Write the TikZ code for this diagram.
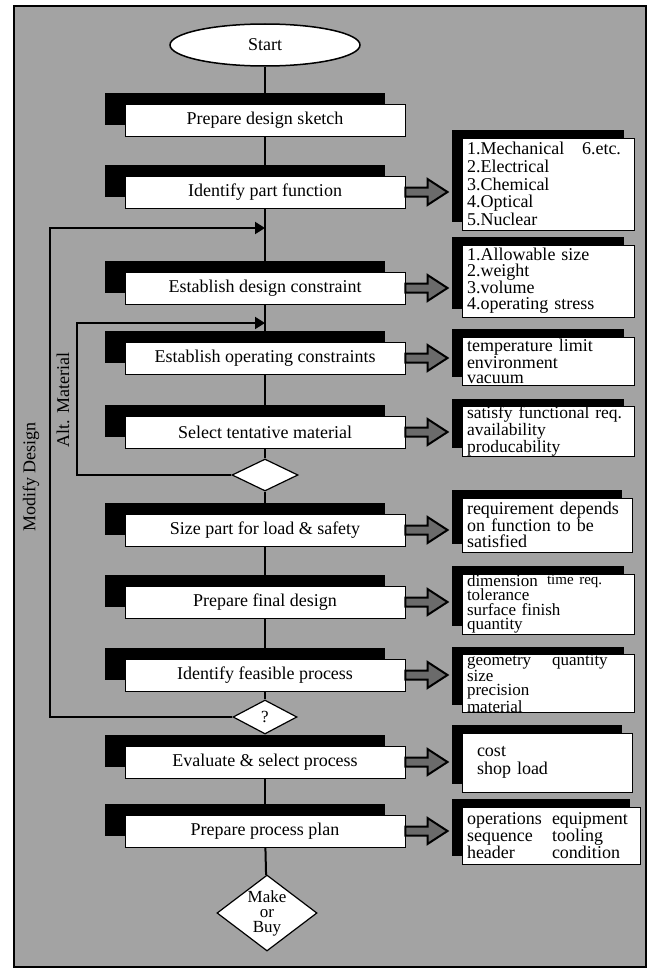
\documentclass[tikz,border=0pt]{standalone}
\usepackage{fontspec}
\setmainfont{Liberation Serif}
\usetikzlibrary{shapes.geometric,shadows,calc,arrows.meta}
\definecolor{halftone}{gray}{0.64}
\definecolor{arrowfill}{gray}{0.42}

% fat hollow arrow from a step box to its note box
\newcommand\blockarrow[2]{%
  \draw[barrow] let \p1=(#1.east), \p2=(#2.west) in
    (\x1,\y1+4.5pt) -- (\x2-34pt,\y1+4.5pt) -- (\x2-34pt,\y1+13pt) --
    (\x2-14pt,\y1) -- (\x2-34pt,\y1-13pt) -- (\x2-34pt,\y1-4.5pt) --
    (\x1,\y1-4.5pt) -- cycle;}

\begin{document}
\begin{tikzpicture}[x=1pt,y=-1pt,
  stepbox/.style={draw=black, line width=0.8pt, fill=white,
    minimum width=280pt, minimum height=32pt, inner sep=0pt,
    font=\fontsize{18}{18}\selectfont,
    general shadow={fill=black, shadow xshift=-20pt, shadow yshift=11pt}},
  notebox/.style={draw=black, line width=1pt, fill=white,
    inner xsep=5pt, inner ysep=0pt, align=left,
    general shadow={fill=black, shadow xshift=-10pt, shadow yshift=8pt}},
  decision/.style={diamond, draw=black, line width=1.2pt, fill=white,
    inner sep=0pt, font=\fontsize{17}{15}\selectfont, align=center},
  link/.style={draw=black, line width=2pt},
  loop/.style={draw=black, line width=2pt, -{Triangle[length=10pt,width=12pt]}},
  barrow/.style={draw=black, line width=2pt, fill=arrowfill, line join=miter},
  sidelabel/.style={rotate=90, font=\fontsize{18}{18}\selectfont, inner sep=0pt}
]
\useasboundingbox (0,0) rectangle (653,974);
\fill[white] (0,0) rectangle (653,974);
\draw[line width=2pt, fill=halftone] (14,6) rectangle (646,967);

% main flow
\node[ellipse, draw=black, line width=1.5pt, fill=white, minimum width=190pt,
      minimum height=42pt, inner sep=0pt, font=\fontsize{18}{18}\selectfont]
      (start) at (265,45) {Start};
\node[stepbox] (p1) at (265,120) {Prepare design sketch};
\node[stepbox] (p2) at (265,192) {Identify part function};
\node[stepbox] (p3) at (265,288) {Establish design constraint};
\node[stepbox] (p4) at (265,358) {Establish operating constraints};
\node[stepbox] (p5) at (265,432) {Select tentative material};
\node[decision, minimum width=66pt, minimum height=32pt] (d1) at (265,475) {};
\node[stepbox] (p6) at (265,530) {Size part for load \& safety};
\node[stepbox] (p7) at (265,602) {Prepare final design};
\node[stepbox] (p8) at (265,675) {Identify feasible process};
\node[decision, minimum width=64pt, minimum height=34pt] (d2) at (265,717) {?};
\node[stepbox] (p9) at (265,762) {Evaluate \& select process};
\node[stepbox] (p10) at (265,831) {Prepare process plan};
\node[decision, aspect=1.35, minimum width=100pt, minimum height=76pt]
      (d3) at (267,913) {Make\\or\\Buy};

% notes
\node[notebox, text width=162pt, minimum height=92pt, font=\fontsize{18}{17.75}\selectfont]
  (n2) at (548,184) {\makebox[115pt][l]{1.Mechanical}6.etc.\\2.Electrical\\3.Chemical\\4.Optical\\5.Nuclear};
\node[notebox, text width=162pt, minimum height=72pt, font=\fontsize{18}{16}\selectfont]
  (n3) at (548,281) {1.Allowable size\\2.weight\\3.volume\\4.operating stress};
\node[notebox, text width=162pt, minimum height=48pt, font=\fontsize{18}{15}\selectfont]
  (n4) at (548,361) {temperature limit\\environment\\vacuum};
\node[notebox, text width=162pt, minimum height=47pt, font=\fontsize{17.5}{14.5}\selectfont]
  (n5) at (548,431.5) {satisfy functional req.\\availability\\producability};
\node[notebox, text width=160pt, minimum height=54pt, font=\fontsize{18}{16}\selectfont]
  (n6) at (547,525) {requirement depends\\on function to be\\satisfied};
\node[notebox, text width=162pt, minimum height=60pt, font=\fontsize{17}{14.5}\selectfont]
  (n7) at (548,604) {\makebox[80pt][l]{dimension}\raisebox{2pt}{\fontsize{15}{15}\selectfont time req.}\\tolerance\\surface finish\\quantity};
\node[notebox, text width=162pt, minimum height=58pt, font=\fontsize{17}{14}\selectfont]
  (n8) at (548,683.5) {\makebox[85pt][l]{geometry}quantity\\size\\precision\\material};
\node[notebox, inner xsep=15pt, text width=140pt, minimum height=59pt, font=\fontsize{18}{18}\selectfont]
  (n9) at (547,762.5) {cost\\shop load};
\node[notebox, text width=168pt, minimum height=57pt, font=\fontsize{18}{17}\selectfont]
  (n10) at (551,835.5) {\makebox[85pt][l]{operations}equipment\\\makebox[85pt][l]{sequence}tooling\\\makebox[85pt][l]{header}condition};

% vertical flow line
\foreach \a/\b in {start/p1,p1/p2,p2/p3,p3/p4,p4/p5,p5/d1,d1/p6,p6/p7,p7/p8,p8/d2,d2/p9,p9/p10,p10/d3}
  \draw[link] (\a) -- (\b);

% feedback loops
\coordinate (altin) at (265,323);
\coordinate (altside) at (77,400);
\coordinate (modin) at (265,228);
\coordinate (modside) at (50,477);
\draw[loop] (d1.west) -| (altside) |- (altin);
\draw[loop] (d2.west) -| (modside) |- (modin);
\node[sidelabel] (altlabel) at (63,400) {Alt. Material};
\node[sidelabel] (modlabel) at (31,477) {Modify Design};

% arrows to the notes
\blockarrow{p2}{n2}
\blockarrow{p3}{n3}
\blockarrow{p4}{n4}
\blockarrow{p5}{n5}
\blockarrow{p6}{n6}
\blockarrow{p7}{n7}
\blockarrow{p8}{n8}
\blockarrow{p9}{n9}
\blockarrow{p10}{n10}
\end{tikzpicture}
\end{document}
